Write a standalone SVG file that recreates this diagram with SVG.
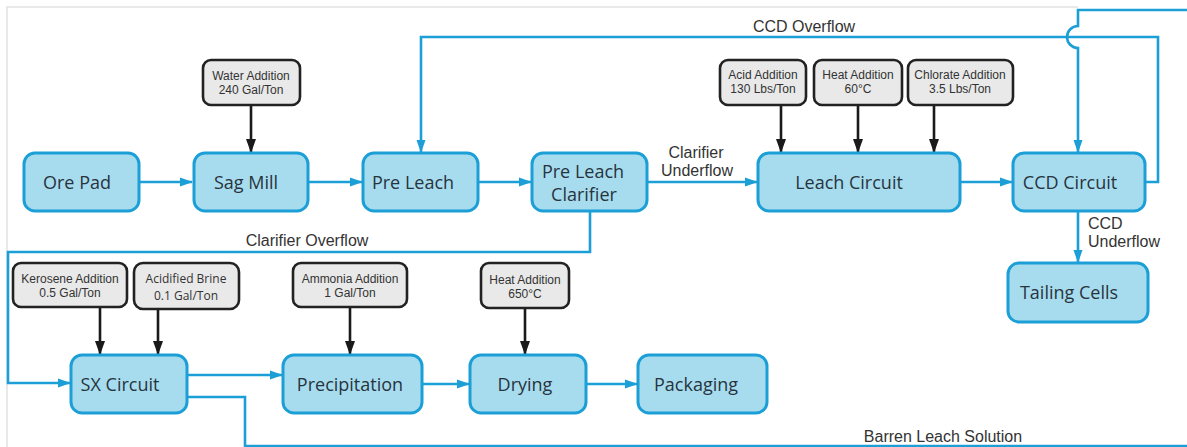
<svg xmlns="http://www.w3.org/2000/svg" width="1187" height="447" viewBox="0 0 1187 447">
<defs>
<style>
.node rect{fill:#a7dcef;stroke:#1c9fd6;stroke-width:3}
.node text{font-family:"Open Sans","Noto Sans",sans-serif;font-size:18px;fill:#27343d;text-anchor:middle}
.add rect{fill:#e9e9e9;stroke:#222;stroke-width:2.6}
.add text{font-family:"Liberation Sans",Arial,sans-serif;font-size:12px;fill:#333;text-anchor:middle}
.add text.alt{font-family:"Open Sans","Noto Sans",sans-serif}
.flow{fill:none;stroke:#1c9fd6;stroke-width:2.6}
.feed{fill:none;stroke:#1a1a1a;stroke-width:2.6}
.lbl{font-family:"Liberation Sans",Arial,sans-serif;font-size:16px;fill:#333}
</style>
<marker id="ab" viewBox="0 0 13 10" refX="12" refY="5" markerWidth="13" markerHeight="10" markerUnits="userSpaceOnUse" orient="auto"><path d="M0,0.5 L13,5 L0,9.5 Z" fill="#1c9fd6"/></marker>
<marker id="ak" viewBox="0 0 10 14" refX="5" refY="13" markerWidth="10" markerHeight="14" markerUnits="userSpaceOnUse" orient="0"><path d="M0,0 L10,0 L5,14 Z" fill="#1a1a1a"/></marker>
</defs>
<rect width="1187" height="447" fill="#fff"/>
<path d="M7,447 V7 H1078" fill="none" stroke="#e2e2e2" stroke-width="1.5"/>

<g id="connectors">
<path class="flow" d="M140,182 H192" marker-end="url(#ab)"/>
<path class="flow" d="M308,182 H362" marker-end="url(#ab)"/>
<path class="flow" d="M478,182 H531" marker-end="url(#ab)"/>
<path class="flow" d="M647,182 H757" marker-end="url(#ab)"/>
<path class="flow" d="M960,182 H1012" marker-end="url(#ab)"/>
<path class="flow" d="M1145,182 H1158 V37 H421 V152" marker-end="url(#ab)"/>
<path class="flow" d="M1187,10 H1078 V26 A11,11 0 0 0 1078,48 V152" marker-end="url(#ab)"/>
<path class="flow" d="M1078,211 V262" marker-end="url(#ab)"/>
<path class="flow" d="M590,211 V252 H8 V383 H70" marker-end="url(#ab)"/>
<path class="flow" d="M187,375 H282" marker-end="url(#ab)"/>
<path class="flow" d="M187,397 H245 V446 H1187"/>
<path class="flow" d="M422,384 H469" marker-end="url(#ab)"/>
<path class="flow" d="M586,384 H637" marker-end="url(#ab)"/>
<path class="feed" d="M251,105 V152" marker-end="url(#ak)"/>
<path class="feed" d="M781,105 V152" marker-end="url(#ak)"/>
<path class="feed" d="M858,105 V152" marker-end="url(#ak)"/>
<path class="feed" d="M934,105 V152" marker-end="url(#ak)"/>
<path class="feed" d="M100,307 V354" marker-end="url(#ak)"/>
<path class="feed" d="M158,309 V354" marker-end="url(#ak)"/>
<path class="feed" d="M350,307 V354" marker-end="url(#ak)"/>
<path class="feed" d="M525,308 V354" marker-end="url(#ak)"/>
<text class="lbl" x="804" y="32" text-anchor="middle">CCD Overflow</text>
<text class="lbl" x="696" y="158" text-anchor="middle" font-size="15">Clarifier</text>
<text class="lbl" x="697" y="176" text-anchor="middle" font-size="15">Underflow</text>
<text class="lbl" x="1088" y="229">CCD</text>
<text class="lbl" x="1088" y="247">Underflow</text>
<text class="lbl" x="307" y="246" text-anchor="middle">Clarifier Overflow</text>
<text class="lbl" x="943" y="442" text-anchor="middle">Barren Leach Solution</text>
</g>

<g id="ore-pad" class="node"><rect x="24" y="153" width="115" height="58" rx="11"/><text x="77" y="189">Ore Pad</text></g>
<g id="sag-mill" class="node"><rect x="194" y="153" width="114" height="58" rx="11"/><text x="246" y="189">Sag Mill</text></g>
<g id="pre-leach" class="node"><rect x="363" y="153" width="115" height="58" rx="11"/><text x="413" y="189">Pre Leach</text></g>
<g id="pre-leach-clarifier" class="node"><rect x="532" y="153" width="115" height="58" rx="11"/><text x="583" y="178">Pre Leach</text><text x="584" y="201">Clarifier</text></g>
<g id="leach-circuit" class="node"><rect x="758" y="153" width="202" height="58" rx="11"/><text x="849" y="189">Leach Circuit</text></g>
<g id="ccd-circuit" class="node"><rect x="1013" y="153" width="132" height="58" rx="11"/><text x="1070" y="189">CCD Circuit</text></g>
<g id="tailing-cells" class="node"><rect x="1008" y="263" width="140" height="59" rx="11"/><text x="1069" y="299">Tailing Cells</text></g>
<g id="sx-circuit" class="node"><rect x="71" y="355" width="116" height="58" rx="11"/><text x="120" y="391">SX Circuit</text></g>
<g id="precipitation" class="node"><rect x="283" y="355" width="139" height="58" rx="11"/><text x="350" y="391">Precipitation</text></g>
<g id="drying" class="node"><rect x="470" y="355" width="116" height="58" rx="11"/><text x="525" y="391">Drying</text></g>
<g id="packaging" class="node"><rect x="638" y="355" width="129" height="58" rx="11"/><text x="696" y="391">Packaging</text></g>

<g id="water-addition" class="add"><rect x="203" y="60" width="97" height="45" rx="8"/><text x="251" y="80">Water Addition</text><text x="251" y="94">240 Gal/Ton</text></g>
<g id="acid-addition" class="add"><rect x="720" y="60" width="86" height="45" rx="8"/><text x="763" y="79">Acid Addition</text><text x="763" y="93">130 Lbs/Ton</text></g>
<g id="heat-addition-60" class="add"><rect x="814" y="60" width="88" height="45" rx="8"/><text x="858" y="79">Heat Addition</text><text x="858" y="93">60°C</text></g>
<g id="chlorate-addition" class="add"><rect x="908" y="60" width="105" height="45" rx="8"/><text x="960" y="79">Chlorate Addition</text><text x="960" y="93">3.5 Lbs/Ton</text></g>
<g id="kerosene-addition" class="add"><rect x="13" y="263" width="114" height="44" rx="8"/><text x="70" y="283">Kerosene Addition</text><text x="70" y="297">0.5 Gal/Ton</text></g>
<g id="acidified-brine" class="add"><rect x="134" y="263" width="105" height="46" rx="9"/><text class="alt" x="186" y="283">Acidified Brine</text><text class="alt" x="186" y="300">0.1 Gal/Ton</text></g>
<g id="ammonia-addition" class="add"><rect x="293" y="263" width="114" height="44" rx="8"/><text x="350" y="283">Ammonia Addition</text><text x="350" y="297">1 Gal/Ton</text></g>
<g id="heat-addition-650" class="add"><rect x="481" y="263" width="88" height="45" rx="8"/><text x="525" y="284">Heat Addition</text><text x="525" y="298">650°C</text></g>
</svg>
